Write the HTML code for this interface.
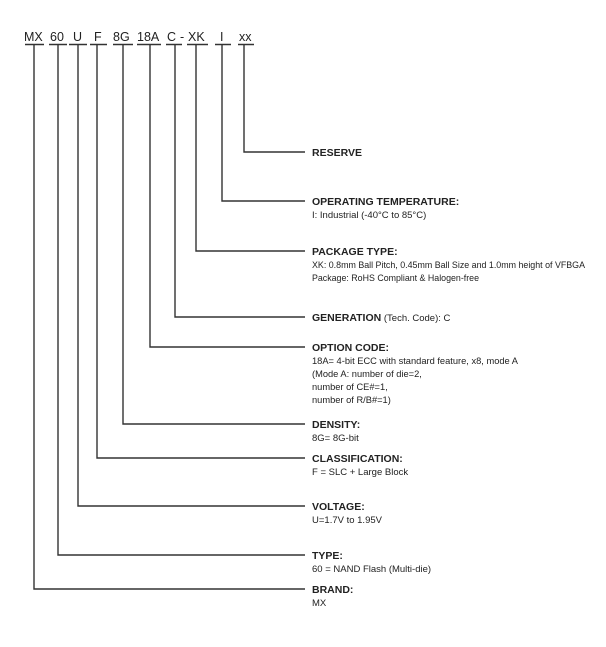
<!DOCTYPE html>
<html><head><style>
html,body{margin:0;padding:0;background:#fff}
svg{display:block}
text{font-family:"Liberation Sans",sans-serif;fill:#222}
.h{font-size:10.5px;font-weight:bold}
.b{font-size:9.5px}
.n{font-size:9.3px}
.c{font-size:12.5px}
</style></head><body>
<svg width="606" height="647" viewBox="0 0 606 647" xmlns="http://www.w3.org/2000/svg" xml:space="preserve">
<g stroke="#333" stroke-width="1.4" fill="none">
<path d="M25 44.5H44 M49 44.5H67 M69 44.5H87 M90 44.5H107 M113 44.5H133 M137 44.5H161 M166 44.5H182 M187 44.5H208 M215 44.5H231 M238 44.5H254"/>
<path d="M244 45V152H305"/>
<path d="M222 45V201H305"/>
<path d="M196 45V251H305"/>
<path d="M175 45V317H305"/>
<path d="M150 45V347H305"/>
<path d="M123 45V424H305"/>
<path d="M97 45V458H305"/>
<path d="M78 45V506H305"/>
<path d="M58 45V555H305"/>
<path d="M34 45V589H305"/>
</g>
<text class="c" x="24" y="41">MX</text>
<text class="c" x="50" y="41">60</text>
<text class="c" x="73" y="41">U</text>
<text class="c" x="94" y="41">F</text>
<text class="c" x="113" y="41">8G</text>
<text class="c" x="137" y="41">18A</text>
<text class="c" x="167" y="41">C</text>
<text class="c" x="180" y="41">-</text>
<text class="c" x="188" y="41">XK</text>
<text class="c" x="220" y="41">I</text>
<text class="c" x="239" y="41">xx</text>

<text class="h" x="312" y="156">RESERVE</text>
<text class="h" x="312" y="205">OPERATING TEMPERATURE:</text>
<text class="b" x="312" y="218">I:  Industrial  (-40°C to 85°C)</text>
<text class="h" x="312" y="255">PACKAGE TYPE:</text>
<text class="n" x="312" y="268" textLength="273" lengthAdjust="spacingAndGlyphs">XK: 0.8mm Ball Pitch, 0.45mm Ball Size and 1.0mm height of VFBGA</text>
<text class="n" x="312" y="281" textLength="167" lengthAdjust="spacingAndGlyphs">Package: RoHS Compliant &amp; Halogen-free</text>
<text x="312" y="321"><tspan class="h">GENERATION</tspan><tspan class="b"> (Tech. Code):  C</tspan></text>
<text class="h" x="312" y="351">OPTION CODE:</text>
<text class="n" x="312" y="364" textLength="206" lengthAdjust="spacingAndGlyphs">18A= 4-bit ECC with standard feature, x8, mode A</text>
<text class="n" x="312" y="377">(Mode A: number of die=2,</text>
<text class="n" x="312" y="390">number of CE#=1,</text>
<text class="n" x="312" y="403">number of R/B#=1)</text>
<text class="h" x="312" y="428">DENSITY:</text>
<text class="b" x="312" y="441">8G= 8G-bit</text>
<text class="h" x="312" y="462">CLASSIFICATION:</text>
<text class="b" x="312" y="475">F = SLC + Large Block</text>
<text class="h" x="312" y="510">VOLTAGE:</text>
<text class="b" x="312" y="523">U=1.7V to 1.95V</text>
<text class="h" x="312" y="559">TYPE:</text>
<text class="b" x="312" y="572">60 = NAND Flash (Multi-die)</text>
<text class="h" x="312" y="593">BRAND:</text>
<text class="b" x="312" y="606">MX</text>
</svg>
</body></html>
